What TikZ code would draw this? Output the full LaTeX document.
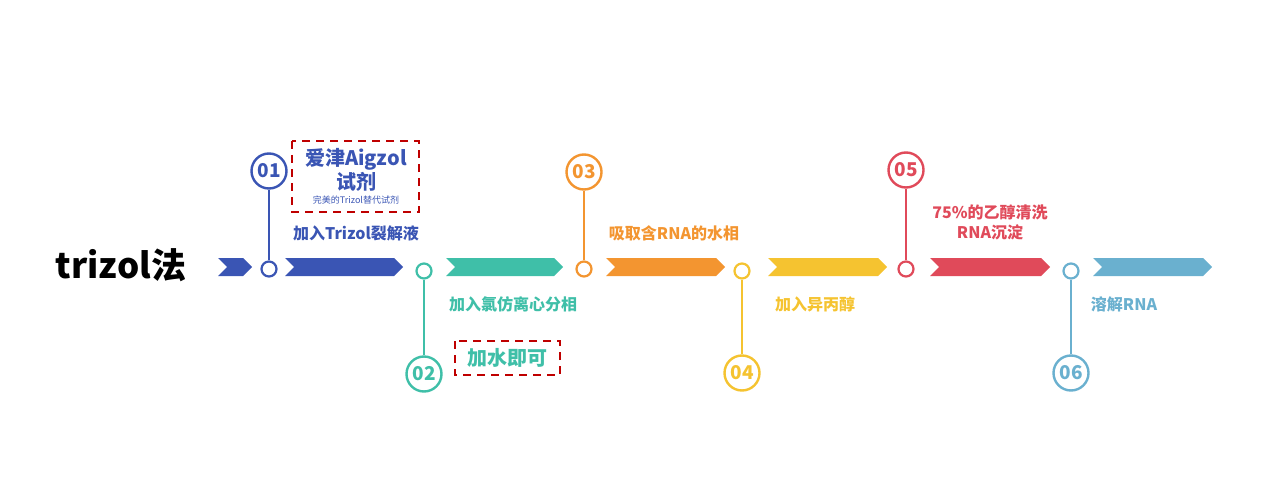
\documentclass[tikz,border=0pt]{standalone}
\usepackage{fontspec}
\setmainfont{Noto Sans CJK SC}
\begin{document}
\begin{tikzpicture}[x=1pt,y=-1pt,
  ring/.style={circle,draw=#1,line width=2.2pt,fill=white,minimum size=15pt,inner sep=0},
  big/.style={circle,draw=#1,line width=2.4pt,fill=white,minimum size=35pt,inner sep=0,text=#1,font=\bfseries\fontsize{19}{19}\selectfont},
  lab/.style={text=#1,font=\bfseries\fontsize{16}{20}\selectfont,align=center},
  dbox/.style={draw=red!75!black,line width=1.3pt,dash pattern=on 8pt off 6pt}]
\useasboundingbox (0,0) rectangle (1280,484);
\definecolor{cA}{HTML}{3A55B4}\definecolor{cB}{HTML}{3FBFA8}\definecolor{cC}{HTML}{F39530}
\definecolor{cD}{HTML}{F5C330}\definecolor{cE}{HTML}{E04A5A}\definecolor{cF}{HTML}{6AB0CF}
\def\arr#1#2#3{\fill[#3] (#1,258) -- (#2-9,258) -- (#2,267) -- (#2-9,276) -- (#1,276) -- (#1+9,267) -- cycle;}
\node[font=\bfseries\fontsize{35}{35}\selectfont] (t) at (121,265) {trizol法};
\fill[cA] (218,258) -- (243,258) -- (252,267) -- (243,276) -- (218,276) -- (227,267) -- cycle;
\arr{285}{403}{cA}\arr{446}{563}{cB}\arr{606}{725}{cC}\arr{768}{887}{cD}\arr{930}{1050}{cE}\arr{1093}{1212}{cF}
\foreach \x/\y/\c/\n/\k in {269/171/cA/01/a,424/374/cB/02/b,584/172/cC/03/c,742/373/cD/04/d,906/170/cE/05/e,1071/373/cF/06/f}{
  \node[big=\c] (B\k) at (\x,\y) {\n};
  \node[ring=\c] (r\k) at (\x,\ifnum\y<270 269\else 271\fi) {};
  \draw[\c,line width=2.4pt] (B\k) -- (r\k);
}
\node[lab=cA] (l1) at (356,233) {加入Trizol裂解液};
\node[lab=cB] (l2) at (513,304) {加入氯仿离心分相};
\node[lab=cC] (l3) at (674,233) {吸取含RNA的水相};
\node[lab=cD] (l4) at (815,304) {加入异丙醇};
\node[lab=cE] (l5) at (990,222) {75\%的乙醇清洗\\RNA沉淀};
\node[lab=cF] (l6) at (1124,304) {溶解RNA};
\draw[dbox] (292,141) rectangle (419,212);
\node[lab=cA,font=\bfseries\fontsize{20}{24}\selectfont] (n1) at (356,170) {爱津Aigzol\\试剂};
\node[text=cA,font=\fontsize{9}{10}\selectfont] (n1b) at (356,200) {完美的Trizol替代试剂};
\draw[dbox] (455,341) rectangle (560,375);
\node[lab=cB,font=\bfseries\fontsize{20}{24}\selectfont] (n2) at (507,358) {加水即可};
\end{tikzpicture}
\end{document}
